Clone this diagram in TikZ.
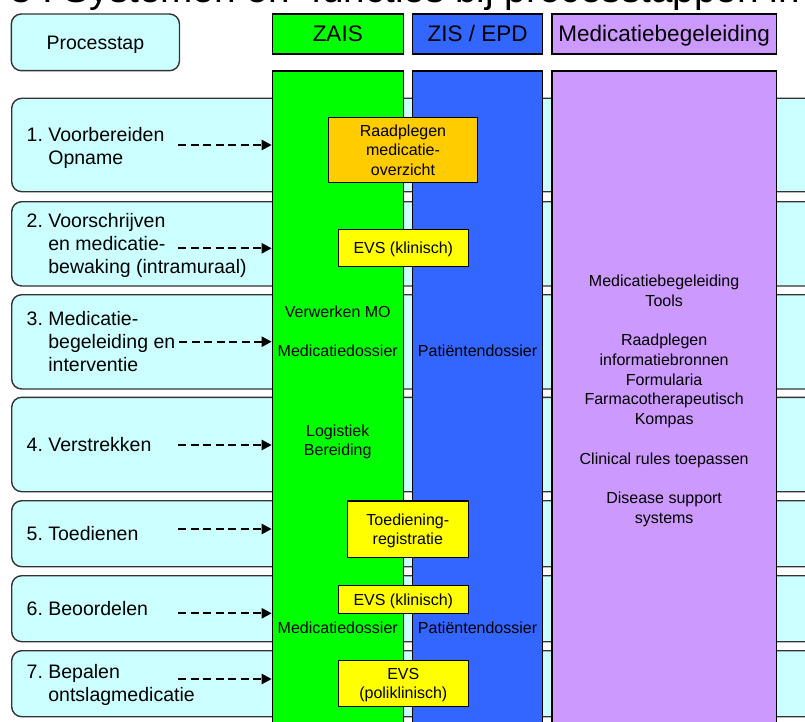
\documentclass[tikz,border=0pt]{standalone}
\usepackage{fontspec}
\setmainfont{Liberation Sans}
\usetikzlibrary{arrows.meta}
\definecolor{rowfill}{HTML}{CCFFFF}
\definecolor{zaisgreen}{HTML}{00FF00}
\definecolor{zisblue}{HTML}{3366FF}
\definecolor{medpurple}{HTML}{CC99FF}
\definecolor{evsyellow}{HTML}{FFFF00}
\definecolor{raadorange}{HTML}{FFCC00}
\newcommand{\lblfont}{\fontsize{19.5}{22.8}\selectfont}
\newcommand{\smallfont}{\fontsize{16}{19.7}\selectfont}
\tikzset{
  rowbox/.style={draw=black!80, line width=1.4pt, fill=rowfill, rounded corners=10pt, inner sep=0pt},
  hdr/.style={draw=black, line width=1.2pt, inner sep=0pt, font=\fontsize{22.5}{27}\selectfont, text height=16pt, text depth=0pt},
  colbox/.style={draw=black, line width=1.2pt, inner sep=0pt},
  sysbox/.style={draw=black, line width=1.4pt, inner sep=0pt, align=center, font=\smallfont, text depth=0pt},
  lbl/.style={inner sep=0pt, align=left, font=\lblfont, text depth=0pt, anchor=south west},
  ctext/.style={inner sep=0pt, font=\smallfont, anchor=base},
  dasharrow/.style={line width=2.3pt, dash pattern=on 8pt off 4.5pt, -{Triangle[length=10pt,width=10pt]}},
}
\begin{document}
\frenchspacing
\begin{tikzpicture}[x=1pt,y=-1pt]
\useasboundingbox (0,0) rectangle (805,722);
\clip (0,0) rectangle (805,722);

% title (cut off at the top)
\node[anchor=base west, inner sep=0pt, font=\fontsize{38.7}{46}\selectfont] (title) at (10,3)
  {3 : Systemen en\ \ functies bij processtappen in het medicatieproces};

% header
\node[rowbox, minimum width=168.2pt, minimum height=56.7pt, font=\lblfont, text height=14pt, text depth=0pt] (proc) at (95.4,42.35) {Processtap};
\node[hdr, fill=zaisgreen, minimum width=130.9pt, minimum height=40pt] (hzais) at (337.75,34) {ZAIS};
\node[hdr, fill=zisblue, minimum width=130.5pt, minimum height=40pt] (hzis) at (477.55,34) {ZIS / EPD};
\node[hdr, fill=medpurple, minimum width=224.3pt, minimum height=40pt] (hmed) at (664.15,34) {Medicatiebegeleiding};

% rows
\node[rowbox, minimum width=828.3pt, minimum height=93.4pt] (row1) at (425.85,145) {};
\node[rowbox, minimum width=828.3pt, minimum height=84.3pt] (row2) at (425.85,243.85) {};
\node[rowbox, minimum width=828.3pt, minimum height=94.3pt] (row3) at (425.85,341.85) {};
\node[rowbox, minimum width=828.3pt, minimum height=94.4pt] (row4) at (425.85,444.5) {};
\node[rowbox, minimum width=828.3pt, minimum height=66pt] (row5) at (425.85,533.7) {};
\node[rowbox, minimum width=828.3pt, minimum height=66pt] (row6) at (425.85,608.7) {};
\node[rowbox, minimum width=828.3pt, minimum height=66pt] (row7) at (425.85,683.7) {};

% columns
\node[colbox, fill=zaisgreen, minimum width=130.9pt, minimum height=680pt, anchor=north] (zais) at (337.75,70.5) {};
\node[colbox, fill=zisblue, minimum width=130.5pt, minimum height=680pt, anchor=north] (zis) at (477.55,70.5) {};
\node[colbox, fill=medpurple, minimum width=224.3pt, minimum height=680pt, anchor=north] (med) at (664.15,70.5) {};

% column texts
\node[ctext] (verwerken) at (337.75,317.3) {Verwerken MO};
\node[ctext] (mdos1) at (337.75,356.7) {Medicatiedossier};
\node[ctext, align=center, anchor=south, text depth=0pt] (logist) at (337.75,456) {Logistiek\\Bereiding};
\node[ctext] (mdos2) at (337.75,633.3) {Medicatiedossier};
\node[ctext] (pdos1) at (477.55,356.3) {Patiëntendossier};
\node[ctext] (pdos2) at (477.55,633.6) {Patiëntendossier};
\node[ctext, align=center, anchor=south, text depth=0pt] (medtools) at (664.15,523.3)
  {Medicatiebegeleiding\\Tools\\{}\\Raadplegen\\informatiebronnen\\Formularia\\Farmacotherapeutisch\\Kompas\\{}\\Clinical rules toepassen\\{}\\Disease support\\systems};

% system boxes
\node[sysbox, fill=raadorange, minimum width=149.4pt, minimum height=65.4pt] (raad) at (403,150) {Raadplegen\\medicatie-\\overzicht};
\node[sysbox, fill=evsyellow, minimum width=130pt, minimum height=37.4pt] (evs1) at (403.3,248) {EVS (klinisch)};
\node[sysbox, fill=evsyellow, minimum width=121pt, minimum height=56.3pt] (toed) at (407.8,529.15) {Toediening-\\registratie};
\node[sysbox, fill=evsyellow, minimum width=130pt, minimum height=27.6pt] (evs2) at (403.3,599.5) {EVS (klinisch)};
\node[sysbox, fill=evsyellow, minimum width=130pt, minimum height=46.4pt] (evs3) at (403.3,683.5) {EVS\\(poliklinisch)};

% step labels
\node[lbl] (l1) at (26.5,164.5) {1. Voorbereiden\\\hphantom{1. }Opname};
\node[lbl] (l2) at (26.5,273.3) {2. Voorschrijven\\\hphantom{2. }en medicatie-\\\hphantom{2. }bewaking (intramuraal)};
\node[lbl] (l3) at (26.5,371.5) {3. Medicatie-\\\hphantom{3. }begeleiding en\\\hphantom{3. }interventie};
\node[lbl] (l4) at (26.5,451.7) {4. Verstrekken};
\node[lbl] (l5) at (26.5,540.7) {5. Toedienen};
\node[lbl] (l6) at (26.5,615.7) {6. Beoordelen};
\node[lbl] (l7) at (26.5,701.7) {7. Bepalen\\\hphantom{7. }ontslagmedicatie};

% arrows
\coordinate (s1) at (178,145);
\coordinate (s2) at (178,248.3);
\coordinate (s3) at (179,341.7);
\coordinate (s4) at (178,445);
\coordinate (s5) at (178,529);
\coordinate (s6) at (178,613.3);
\coordinate (s7) at (178,679);
\foreach \i in {1,...,7} {
  \draw[dasharrow] (s\i) -- (s\i -| zais.west);
}
\end{tikzpicture}
\end{document}
